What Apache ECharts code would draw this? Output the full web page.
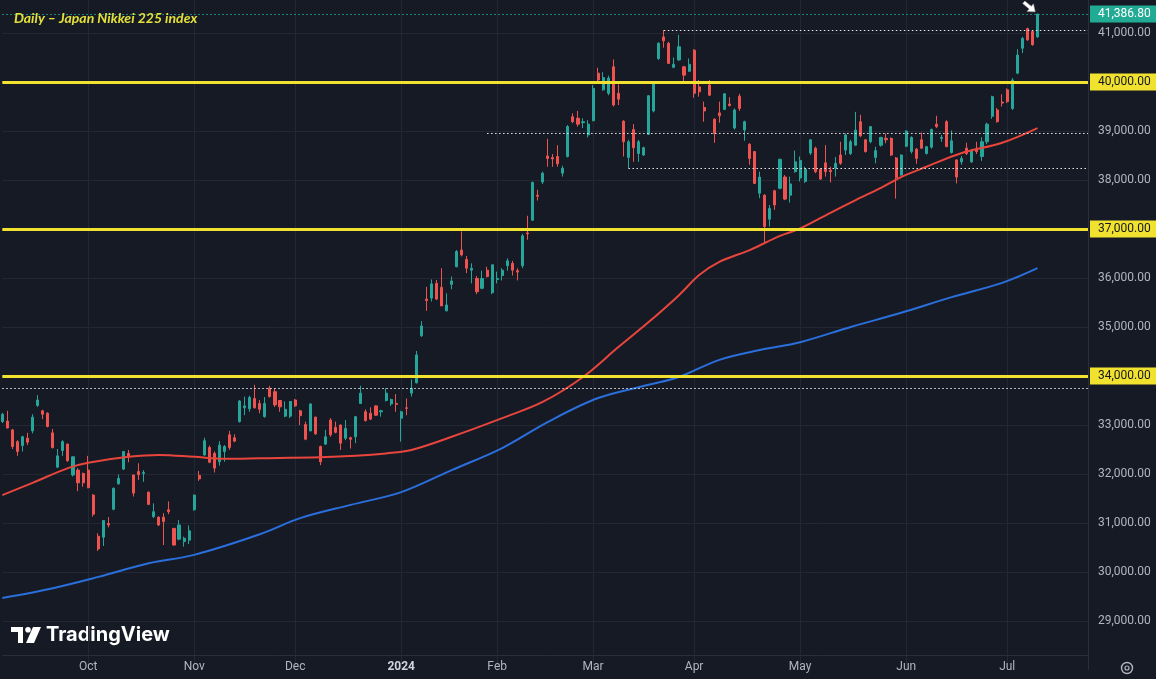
<!DOCTYPE html>
<html><head><meta charset="utf-8">
<script src="https://cdn.jsdelivr.net/npm/echarts@6/dist/echarts.min.js"></script>
<style>html,body{margin:0;padding:0;background:#161a25;}#c{width:1156px;height:679px;}</style>
</head><body><div id="c"></div>
<script>
// trading days (Tokyo Stock Exchange)
const d2023_09=[6,7,8,11,12,13,14,15,19,20,21,22,25,26,27,28,29];
const d2023_10=[2,3,4,5,6,10,11,12,13,16,17,18,19,20,23,24,25,26,27,30,31];
const d2023_11=[1,2,6,7,8,9,10,13,14,15,16,17,20,21,22,24,27,28,29,30];
const d2023_12=[1,4,5,6,7,8,11,12,13,14,15,18,19,20,21,22,25,26,27,28,29];
const d2024_01=[4,5,9,10,11,12,15,16,17,18,19,22,23,24,25,26,29,30,31];
const d2024_02=[1,2,5,6,7,8,9,13,14,15,16,19,20,21,22,26,27,28,29];
const d2024_03=[1,4,5,6,7,8,11,12,13,14,15,18,19,21,22,25,26,27,28,29];
const d2024_04=[1,2,3,4,5,8,9,10,11,12,15,16,17,18,19,22,23,24,25,26,30];
const d2024_05=[1,2,7,8,9,10,13,14,15,16,17,20,21,22,23,24,27,28,29,30,31];
const d2024_06=[3,4,5,6,7,10,11,12,13,14,17,18,19,20,21,24,25,26,27,28];
const d2024_07=[1,2,3,4,5,8,9];
const monthTickLabels=['Oct','Nov','Dec','2024','Feb','Mar','Apr','May','Jun','Jul'];

const opens=[33070,33080,32900,32660,32580,32730,32880,33400,33290,33240,
32840,32140,32480,32610,31980,32080,32010,32080,31570,30730,
30710,30990,31280,31800,32100,32420,31980,32050,32010,31630,
31130,31120,31120,31270,30890,30670,30620,30650,31270,31970,
32390,32540,32420,32250,32460,32800,32740,33070,33350,33330,
33540,33440,33170,33750,33680,33500,33180,33180,33510,33290,
33010,32880,33160,32560,32610,33100,32950,33000,32730,32740,
32760,33440,33270,33240,33390,33270,33500,33430,33440,33140,
33350,33650,33860,34820,35570,35590,35890,35810,35330,35870,
36230,36570,36380,36160,35990,35790,36160,35700,35970,36050,
36250,36300,36150,36250,36920,37180,37690,37960,38490,38460,
38480,38140,38480,39290,39260,39170,38920,39210,40180,39840,
39770,40310,39770,39200,38460,39030,38540,38510,38930,39410,
40480,40920,40790,40300,40450,40310,40220,40650,39900,39480,
39940,39240,39370,39440,39550,39060,39710,39020,38730,38580,
37730,37690,37200,37780,37830,38060,37690,38170,38040,37970,
38550,38650,38220,38350,38200,38240,38510,38610,38540,38710,
39190,38820,38780,38460,38710,38850,38850,38450,38100,38690,
38580,38630,38820,38540,38670,39140,38850,39190,38560,38410,
38370,38650,38370,38630,38480,38780,39300,39430,39590,39840,
39460,40180,40690,41090,41030,40920];
const closes=[33220,32940,32560,32460,32760,32650,33160,33510,33220,32970,
32540,32370,32660,32270,32350,31820,31820,31720,31180,30470,
31050,30960,31710,31910,32460,32350,31610,31990,32030,31380,
31230,30960,31030,31230,30550,30960,30690,30840,31570,31900,
32680,32240,32120,32590,32560,32540,32670,33490,33390,33560,
33350,33320,33440,33580,33410,33370,33320,33480,33390,33190,
32710,33430,32820,32250,32760,32800,32850,32630,32930,32710,
33170,33650,33090,33120,33200,33290,33650,33520,33420,33270,
33340,33750,34430,35020,35540,35880,35570,35430,35450,35940,
36540,36470,36200,36200,35720,35990,36030,36270,35990,36160,
36350,36160,36120,36860,36900,37950,37670,38140,38440,38430,
38330,38240,39090,39190,39140,39190,39140,39870,40040,40090,
40080,39530,39650,38780,38780,38660,38780,38660,39720,39970,
40790,40840,40380,40360,40720,40140,40360,39770,39800,39410,
39730,38950,39310,39760,39520,39430,39460,39190,38440,37930,
38060,37050,37420,37490,38420,37610,37920,38370,38400,38220,
38820,38170,38020,38170,38170,38340,38340,38920,38780,39020,
38900,38580,39090,38600,38870,38820,38510,38050,38510,39000,
38870,38440,38650,38680,39030,39090,38870,38680,38800,38060,
38440,38540,38610,38580,38780,39140,39700,39190,39570,39600,
40040,40550,40890,40860,40760,41386.8];
const highs=[33250,33290,32920,32690,32780,32840,33220,33610,33310,33260,
32920,32510,32690,32620,32360,32120,32030,32370,31590,30790,
31060,31120,31720,31990,32470,32490,31990,32220,32080,31640,
31400,31130,31200,31440,30900,31060,30720,30950,31580,32060,
32740,32580,32460,32670,32590,32880,32810,33510,33580,33600,
33820,33510,33570,33800,33750,33510,33480,33490,33530,33310,
33070,33440,33170,32580,32900,33140,33070,33010,33100,32760,
33180,33800,33320,33360,33400,33310,33750,33540,33630,33290,
33540,33930,34510,35120,35820,35970,35960,36200,35690,36030,
36570,36950,36450,36300,36040,36150,36230,36270,36130,36200,
36400,36350,36200,36900,37270,37970,37800,38170,38840,38530,
38710,38290,39120,39360,39410,39260,39220,39940,40290,40200,
40130,40460,39950,39220,38820,39140,38820,38680,39730,39990,
40810,41060,40820,40500,40960,40330,40480,40670,40040,39600,
40040,39260,39600,39770,39690,39460,39760,39210,38750,38590,
38170,37710,37490,37800,38440,38100,38070,38600,38480,38270,
38830,38680,38240,38710,38270,38470,38780,38950,38820,39390,
39330,38830,39100,38680,38880,38950,38870,38470,38520,39010,
38890,38650,38970,38690,39050,39310,38920,39220,39010,38420,
38490,38760,38630,38780,38870,39170,39720,39470,39750,39870,
40080,40670,40920,41110,41040,41390];
const lows=[33040,32930,32510,32370,32460,32590,32830,33370,33120,32950,
32520,32120,32370,32250,31950,31650,31740,31710,31130,30430,
30530,30910,31260,31780,32080,32240,31540,31880,31840,31370,
31100,30940,30550,31180,30540,30650,30520,30570,31250,31860,
32370,32220,32030,32170,32250,32490,32650,33050,33200,33270,
33340,33240,33150,33560,33370,33270,33160,33140,33370,33000,
32690,32870,32800,32180,32590,32760,32830,32490,32690,32520,
32630,33430,33070,33100,33190,33170,33480,33390,33270,32660,
33200,33580,33850,34800,35330,35520,35550,35430,35320,35770,
36220,36440,36100,35890,35670,35770,36010,35670,35890,35950,
36150,36050,35950,36200,36780,37170,37580,37920,38270,38270,
38270,38070,38460,39160,39090,39060,38870,39200,39990,39820,
39730,39500,39530,38480,38240,38370,38370,38490,38920,39380,
40450,40700,40370,40280,40430,40020,40210,39680,39700,39190,
39720,38760,39170,39430,39500,39030,39410,38800,38310,37920,
37630,36710,37050,37390,37810,37590,37540,38150,37970,37940,
38510,38140,38000,38070,37950,38070,38310,38510,38510,38700,
38880,38560,38750,38340,38680,38750,38490,37620,38090,38670,
38540,38330,38630,38520,38640,39060,38780,38670,38540,37930,
38310,38510,38350,38530,38390,38730,39250,39170,39500,39570,
39430,40160,40590,40840,40740,40900];

// moving averages: [bar index, value]
const sma100=[[0,31570],[6,31820],[13,32120],[17,32230],[25,32350],[31,32390],[38,32350],[44,32310],[51,32320],[63,32340],[70,32370],[76,32420],[81,32490],[89,32760],[99,33140],[107,33470],[115,33980],[122,34590],[128,35100],[134,35650],[138,36060],[142,36330],[148,36570],[154,36860],[158,37010],[164,37330],[169,37590],[174,37840],[178,38060],[183,38270],[190,38550],[198,38760],[205,39060]];
const sma200=[[0,29470],[10,29670],[19,29900],[29,30180],[38,30350],[51,30770],[59,31100],[69,31370],[79,31630],[89,32080],[99,32530],[108,33060],[118,33550],[128,33820],[134,33980],[142,34330],[150,34530],[158,34690],[168,35000],[178,35290],[188,35610],[198,35900],[205,36200]];

const keyLevels=[40000,37000,34000];
// horizontal rays: [start bar index, price]
const rays=[[131,41050],[96,38957],[124,38245],[0,33755]];
const lastPrice=41386.8;

const monthLists=[['2023-09',d2023_09],['2023-10',d2023_10],['2023-11',d2023_11],['2023-12',d2023_12],['2024-01',d2024_01],['2024-02',d2024_02],['2024-03',d2024_03],['2024-04',d2024_04],['2024-05',d2024_05],['2024-06',d2024_06],['2024-07',d2024_07]];
const dates=[];const labelAt=new Map();
monthLists.forEach(([m,days],mi)=>{ if(mi>0) labelAt.set(dates.length, monthTickLabels[mi-1]); days.forEach(d=>dates.push(m+'-'+String(d).padStart(2,'0'))); });
const PAD=10; const cats=dates.slice(); for(let i=0;i<PAD;i++) cats.push('pad'+i);
const lastIdx=cats.length-1;
const ohlc=dates.map((d,i)=>[opens[i],closes[i],lows[i],highs[i]]);
const fmt=v=>v.toLocaleString('en-US',{minimumFractionDigits:2,maximumFractionDigits:2});
const gridC='#232733';
const splitColors=[]; for(let v=28000;v<=42000;v+=1000) splitColors.push((v===28000||v===42000)?'rgba(0,0,0,0)':gridC);

const markData=[];
rays.forEach(([s,p])=>markData.push([{coord:[s,p],lineStyle:{color:'#e8e8e8',type:[1.5,2.5],width:1.2}},{coord:[lastIdx,p]}]));
keyLevels.forEach(p=>markData.push({yAxis:p,lineStyle:{color:'#f2e230',type:'solid',width:3},label:{show:true,position:'end',distance:2,formatter:fmt(p),backgroundColor:'#f2e230',color:'#131722',padding:[3,6,2,8],fontSize:12,fontFamily:'Roboto'}}));
markData.push({yAxis:lastPrice,lineStyle:{color:'#26a69a',type:[1.5,2.5],width:1},label:{show:true,position:'end',distance:2,formatter:fmt(lastPrice),backgroundColor:'#22ab94',color:'#ffffff',padding:[3,6,2,8],fontSize:12,fontFamily:'Roboto'}});

const chart=echarts.init(document.getElementById('c'));
chart.setOption({
  backgroundColor:'#161a25',
  animation:false,
  title:{text:'Daily – Japan Nikkei 225 index',left:9,top:6,textStyle:{color:'#e4e03a',fontStyle:'italic',fontSize:14,fontWeight:'bold',fontFamily:'Lato'}},
  grid:{left:2.3,right:68,top:-16,bottom:9,outerBoundsMode:'none',containLabel:false},
  xAxis:{type:'category',data:cats,boundaryGap:false,offset:-15,
    axisLine:{show:true,lineStyle:{color:'#2a2e39'}},axisTick:{show:false},
    axisLabel:{interval:(i)=>labelAt.has(i),formatter:(v,i)=>{const t=labelAt.get(i)||'';return t==='2024'?'{b|2024}':t;},color:'#b2b5be',fontSize:12,fontFamily:'Roboto',margin:6,rich:{b:{fontWeight:'bold',color:'#d1d4dc',fontSize:12,fontFamily:'Roboto'}}},
    splitLine:{show:true,interval:(i)=>labelAt.has(i),lineStyle:{color:gridC,width:1}}},
  yAxis:{type:'value',position:'right',min:28000,max:42000,interval:1000,
    axisLine:{show:true,lineStyle:{color:'#2a2e39'}},axisTick:{show:false},
    axisLabel:{margin:10,color:'#b2b5be',fontSize:12,fontFamily:'Roboto',formatter:v=>(v===28000||v===42000||keyLevels.includes(v))?'':fmt(v)},
    splitLine:{show:true,lineStyle:{color:splitColors,width:1}}},
  graphic:[
    {type:'group',left:11,top:627,children:[
      {type:'polygon',shape:{points:[[0,0],[12,0],[12,16],[7,16],[7,5],[0,5]]},style:{fill:'#ffffff'}},
      {type:'circle',shape:{cx:17,cy:2.8,r:2.8},style:{fill:'#ffffff'}},
      {type:'polygon',shape:{points:[[22,0],[30,0],[23,16],[15,16]]},style:{fill:'#ffffff'}}
    ]},
    {type:'text',left:46,top:625,style:{text:'TradingView',fill:'#ffffff',font:'bold 20px Inter, Roboto, sans-serif'}},
    {type:'circle',shape:{cx:1127,cy:668,r:5.5},style:{fill:'none',stroke:'#b2b5be',lineWidth:1.4}},
    {type:'circle',shape:{cx:1127,cy:668,r:2},style:{fill:'none',stroke:'#b2b5be',lineWidth:1.2}}
  ],
  series:[
    {type:'candlestick',data:ohlc,barWidth:2.6,clip:false,
      itemStyle:{color:'#26a69a',color0:'#ef5350',borderColor:'#26a69a',borderColor0:'#ef5350',borderWidth:1},
      markLine:{symbol:['none','none'],silent:true,animation:false,data:markData},
      markPoint:{silent:true,animation:false,data:[{coord:[dates.length-1,lastPrice],symbol:'path://M0,4 L9,4 L9,0 L16,6 L9,12 L9,8 L0,8 Z',symbolSize:[15,10],symbolRotate:-40,symbolOffset:[-8,-7],itemStyle:{color:'#ffffff',borderColor:'#9a9a9a',borderWidth:0.5},label:{show:false}}]}
    },
    {type:'line',data:sma100,smooth:0.35,symbol:'none',lineStyle:{color:'#e8453c',width:2},z:3},
    {type:'line',data:sma200,smooth:0.35,symbol:'none',lineStyle:{color:'#2a6fdb',width:2},z:3}
  ]
});
</script></body></html>
